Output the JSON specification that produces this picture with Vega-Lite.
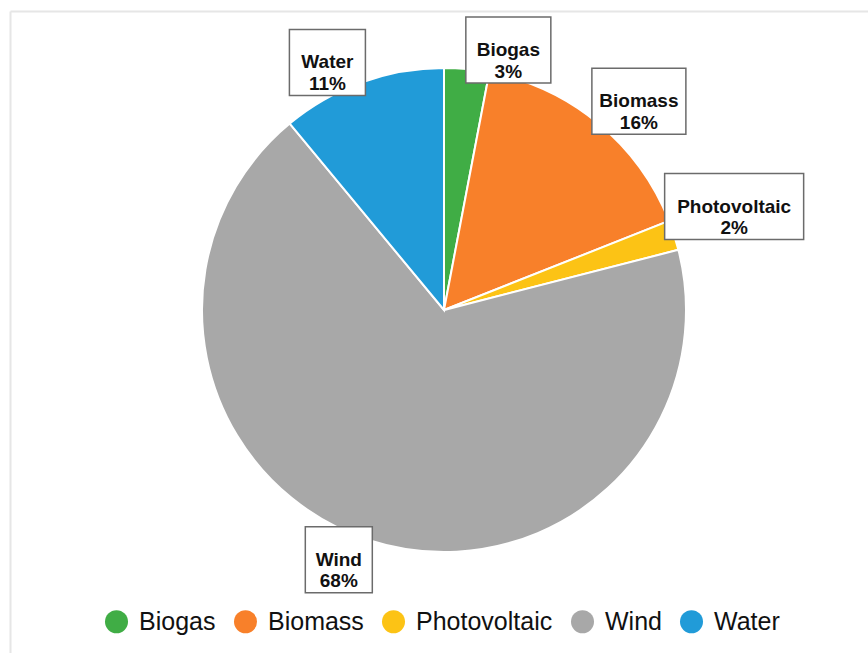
{
  "$schema": "https://vega.github.io/schema/vega-lite/v6.json",
  "width": 858,
  "height": 642,
  "autosize": {"type": "none"},
  "padding": {"left": 10, "top": 11, "right": 0, "bottom": 0},
  "background": "white",
  "data": {
    "values": [
      {"source": "Biogas", "share": 3},
      {"source": "Biomass", "share": 16},
      {"source": "Photovoltaic", "share": 2},
      {"source": "Wind", "share": 68},
      {"source": "Water", "share": 11}
    ]
  },
  "transform": [
    {"window": [{"op": "row_number", "as": "idx"}]},
    {"joinaggregate": [{"op": "sum", "field": "share", "as": "total"}]},
    {"window": [{"op": "sum", "field": "share", "as": "cum"}], "sort": [{"field": "idx"}], "frame": [null, 0]},
    {"calculate": "2 * PI * (datum.cum - datum.share / 2) / datum.total", "as": "mid"},
    {"calculate": "232 * sin(datum.mid)", "as": "ax"},
    {"calculate": "228 * cos(datum.mid)", "as": "ay"},
    {"calculate": "9 * length(datum.source) + 31", "as": "bw"},
    {"calculate": "datum.ax >= 0 ? datum.ax : datum.ax - datum.bw", "as": "bx1"},
    {"calculate": "datum.ax >= 0 ? datum.ax + datum.bw : datum.ax", "as": "bx2"},
    {"calculate": "datum.ay >= 0 ? datum.ay : datum.ay - 66", "as": "by1"},
    {"calculate": "datum.ay >= 0 ? datum.ay + 66 : datum.ay", "as": "by2"},
    {"calculate": "(datum.bx1 + datum.bx2) / 2", "as": "cx"},
    {"calculate": "(datum.by1 + datum.by2) / 2", "as": "cy"},
    {"calculate": "[datum.source, datum.share + '%']", "as": "lines"}
  ],
  "layer": [
    {
      "mark": {"type": "arc", "outerRadius": 242, "stroke": "white", "strokeWidth": 2},
      "encoding": {
        "x": {
          "datum": 0,
          "type": "quantitative",
          "scale": {"domain": [-434, 424], "nice": false, "zero": false},
          "axis": {"orient": "top", "domainColor": "#e6e6e6", "domainWidth": 2, "labels": false, "ticks": false, "grid": false, "title": null}
        },
        "y": {
          "datum": 0,
          "type": "quantitative",
          "scale": {"domain": [-343, 299], "nice": false, "zero": false},
          "axis": {"orient": "left", "domainColor": "#e6e6e6", "domainWidth": 2, "labels": false, "ticks": false, "grid": false, "title": null}
        },
        "theta": {"field": "share", "type": "quantitative", "stack": true},
        "order": {"field": "idx", "type": "quantitative"},
        "color": {
          "field": "source",
          "type": "nominal",
          "sort": ["Biogas", "Biomass", "Photovoltaic", "Wind", "Water"],
          "scale": {
            "domain": ["Biogas", "Biomass", "Photovoltaic", "Wind", "Water"],
            "range": ["#40ad45", "#f8802a", "#fcc315", "#a8a8a8", "#219bd8"]
          },
          "legend": {
            "orient": "none",
            "direction": "horizontal",
            "legendX": 94,
            "legendY": 598,
            "title": null,
            "symbolType": "circle",
            "symbolSize": 530,
            "symbolStrokeWidth": 0,
            "symbolOpacity": 1,
            "labelFont": "Liberation Sans",
            "labelFontSize": 25,
            "labelColor": "#111111",
            "labelOffset": 10,
            "columnPadding": 17
          }
        }
      }
    },
    {
      "mark": {"type": "rect", "fill": "white", "stroke": "#6b6b6b", "strokeWidth": 1.5},
      "encoding": {
        "x": {"field": "bx1", "type": "quantitative", "scale": {"domain": [-434, 424], "nice": false, "zero": false}},
        "x2": {"field": "bx2"},
        "y": {"field": "by1", "type": "quantitative", "scale": {"domain": [-343, 299], "nice": false, "zero": false}},
        "y2": {"field": "by2"}
      }
    },
    {
      "mark": {
        "type": "text",
        "font": "Liberation Sans",
        "fontWeight": "bold",
        "fontSize": 19,
        "lineHeight": 21.5,
        "align": "center",
        "baseline": "middle",
        "color": "#111111"
      },
      "encoding": {
        "x": {"field": "cx", "type": "quantitative", "scale": {"domain": [-434, 424], "nice": false, "zero": false}},
        "y": {"field": "cy", "type": "quantitative", "scale": {"domain": [-343, 299], "nice": false, "zero": false}},
        "text": {"field": "lines"}
      }
    }
  ],
  "config": {
    "view": {"stroke": null}
  }
}
